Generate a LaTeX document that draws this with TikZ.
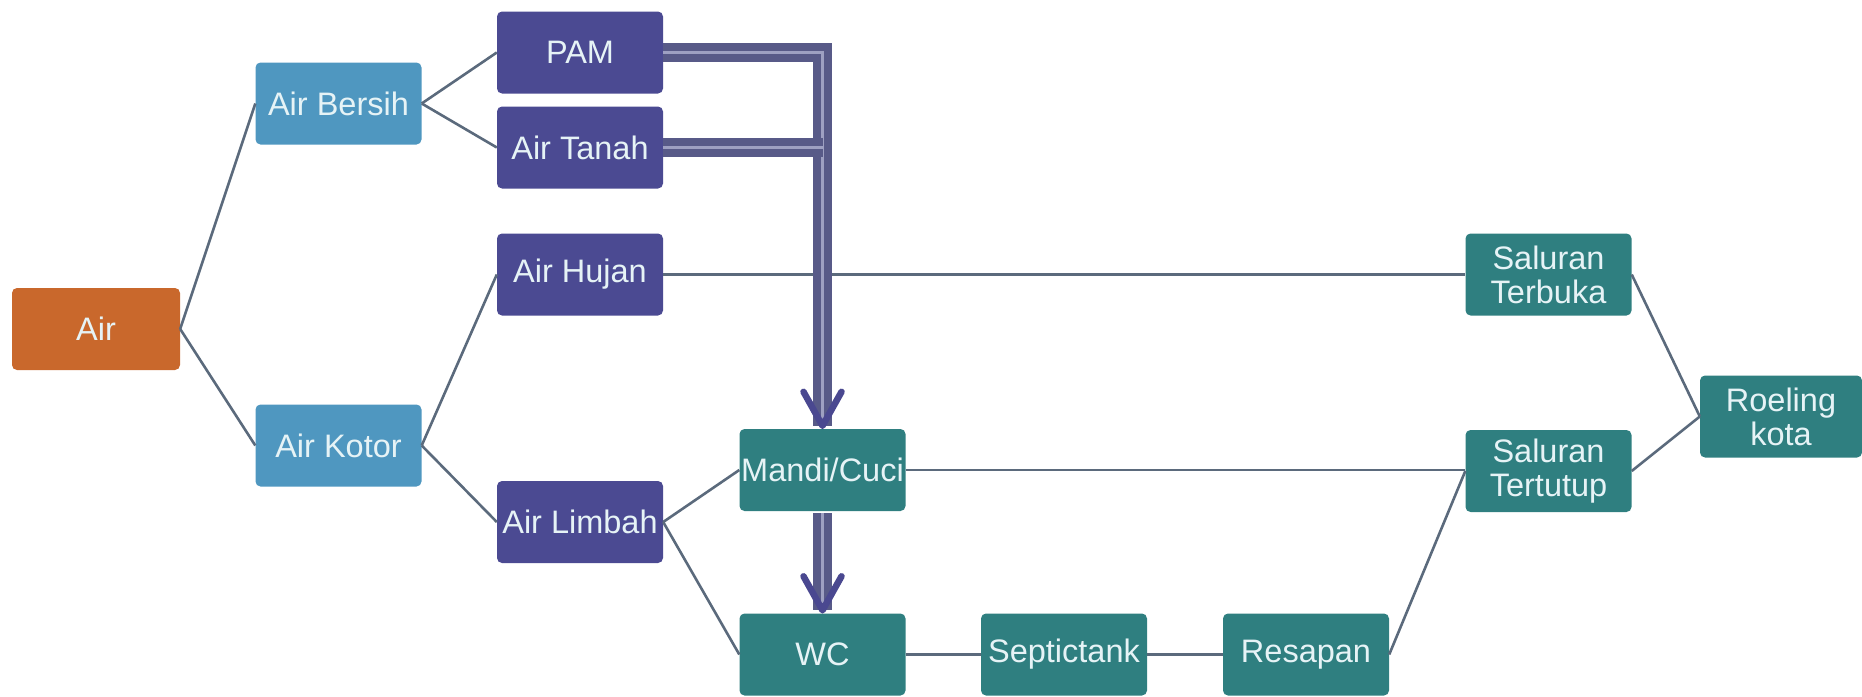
\documentclass[tikz,border=0pt]{standalone}
\usepackage{fontspec}
\setmainfont{Liberation Sans}
\usetikzlibrary{calc}
\definecolor{cOrange}{HTML}{C9682C}
\definecolor{cLight}{HTML}{4F97C0}
\definecolor{cIndigo}{HTML}{4B4A92}
\definecolor{cTeal}{HTML}{2F7F80}
\definecolor{cLine}{HTML}{5B6A7C}
\definecolor{cArrOut}{HTML}{585A88}
\definecolor{cArrIn}{HTML}{9EA0C2}
\definecolor{cHead}{HTML}{4A4890}
\definecolor{cText}{HTML}{E6F3F6}
\begin{document}
\begin{tikzpicture}[x=1pt,y=-1pt,
  box/.style={rounded corners=5pt, minimum width=166pt, minimum height=82pt,
    inner sep=0pt, text=cText, align=center,
    font=\fontsize{32.5}{34}\selectfont},
  orangebox/.style={box, fill=cOrange, minimum width=168pt},
  lightbox/.style={box, fill=cLight},
  indigobox/.style={box, fill=cIndigo},
  tealbox/.style={box, fill=cTeal},
  link/.style={draw=cLine, line width=2.6pt},
  dbl/.style={draw=cArrOut, line width=8pt, double=cArrIn, double distance=3pt},
  vhead/.style={draw=cHead, line width=6.5pt, line cap=round, line join=round}]
\useasboundingbox (0,0) rectangle (1862,696);
% nodes
\node[orangebox] (air) at (96,329) {Air};
\node[lightbox] (bersih) at (338.5,103.5) {Air Bersih};
\node[lightbox] (kotor) at (338.5,445.5) {Air Kotor};
\node[indigobox] (pam) at (580,52.5) {PAM};
\node[indigobox] (tanah) at (580,147.5) {Air Tanah};
\node[indigobox] (hujan) at (580,274.5) {Air Hujan};
\node[indigobox] (limbah) at (580,522) {Air Limbah};
\node[tealbox] (mandi) at (822.5,470) {Mandi/Cuci};
\node[tealbox] (wc) at (822.5,654.5) {WC};
\node[tealbox] (septic) at (1064,654.5) {Septictank};
\node[tealbox] (resapan) at (1306,654.5) {Resapan};
\node[tealbox] (terbuka) at (1548.5,274.5) {Saluran\\Terbuka};
\node[tealbox] (tertutup) at (1548.5,471) {Saluran\\Tertutup};
\node[tealbox, minimum width=162pt] (roeling) at (1781,416.5) {Roeling\\kota};
% connectors
\draw[link] (air.east) -- (bersih.west);
\draw[link] (air.east) -- (kotor.west);
\draw[link] (bersih.east) -- (pam.west);
\draw[link] (bersih.east) -- (tanah.west);
\draw[link] (kotor.east) -- (hujan.west);
\draw[link] (kotor.east) -- (limbah.west);
\draw[link] (limbah.east) -- (mandi.west);
\draw[link] (limbah.east) -- (wc.west);
\draw[link] (hujan.east) -- (terbuka.west);
\draw[link] (mandi.east) -- (mandi.east -| tertutup.west);
\draw[link] (wc.east) -- (septic.west);
\draw[link] (septic.east) -- (resapan.west);
\draw[link] (resapan.east) -- (tertutup.west);
\draw[link] (terbuka.east) -- (roeling.west);
\draw[link] (tertutup.east) -- (roeling.west);
% double arrows
\coordinate (corner) at (pam.east -| mandi.north);
\draw[dbl] (pam.east) -- (corner) -- ([yshift=3pt]mandi.north);
\draw[dbl] (tanah.east) -- (tanah.east -| mandi.north);
\draw[dbl] ([yshift=-2pt]mandi.south) -- ([yshift=3pt]wc.north);
\draw[vhead] ([xshift=-19pt,yshift=37pt]mandi.north) -- ([yshift=3pt]mandi.north) -- ([xshift=19pt,yshift=37pt]mandi.north);
\draw[vhead] ([xshift=-19pt,yshift=37pt]wc.north) -- ([yshift=3pt]wc.north) -- ([xshift=19pt,yshift=37pt]wc.north);
\end{tikzpicture}
\end{document}
